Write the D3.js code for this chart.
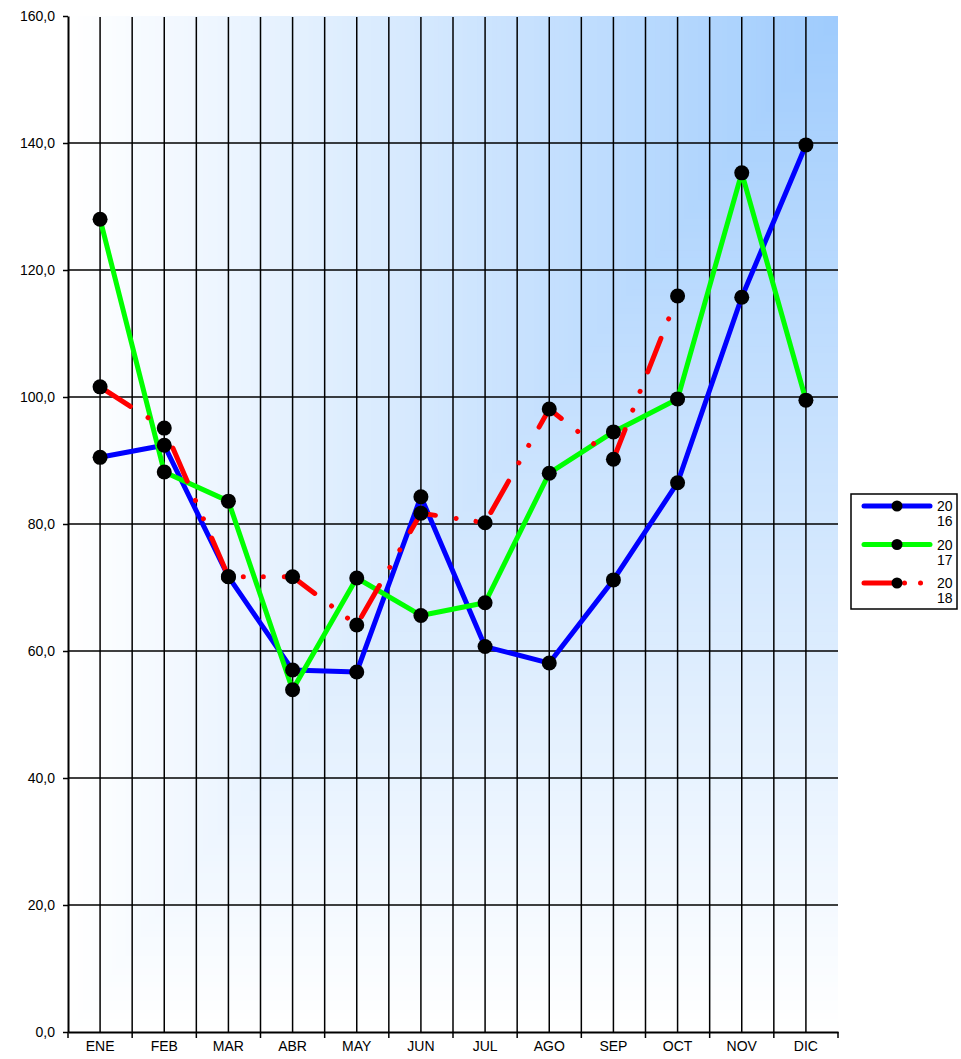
<!DOCTYPE html>
<html>
<head>
<meta charset="utf-8">
<script src="https://cdn.jsdelivr.net/npm/d3@7"></script>
<style>
    body { margin: 0; background: white; }
    svg text { font-family: Arial, "Liberation Sans", sans-serif; fill: black; }
</style>
</head>
<body>
<svg id="chart" width="961" height="1059"></svg>
<script>
const months = ['ENE', 'FEB', 'MAR', 'ABR', 'MAY', 'JUN', 'JUL', 'AGO', 'SEP', 'OCT', 'NOV', 'DIC']
const yTickValues = [0, 20, 40, 60, 80, 100, 120, 140, 160]
const seriesNames = ['2016', '2017', '2018']
const values2016 = [90.5, 92.4, 71.7, 57.0, 56.7, 84.3, 60.7, 58.1, 71.2, 86.5, 115.7, 139.7]
const values2017 = [128.0, 88.2, 83.6, 53.9, 71.5, 65.6, 67.6, 88.0, 94.5, 99.7, 135.3, 99.5]
const values2018 = [101.6, 95.1, 71.7, 71.7, 64.1, 81.7, 80.2, 98.1, 90.2, 115.9, null, null]

const seriesColors = ['#0000ff', '#00ff00', '#ff0000']
const seriesDash = [null, null, '36,21,0.01,20,0.01,21']
const legendDash = [null, null, '29,11.5,0.01,16,0.01,40']

const plotLeft = 68, plotRight = 838, plotTop = 16, plotBottom = 1032
const plotW = plotRight - plotLeft, plotH = plotBottom - plotTop

const svg = d3.select('#chart')

const x = d3.scaleBand().domain(months).range([plotLeft, plotRight])
const y = d3.scaleLinear().domain([0, 160]).range([plotBottom, plotTop])
const cx = m => x(m) + x.bandwidth() / 2

// background gradient spreading from the top right corner
const bgColor = d3.interpolateRgb('#9ecbfd', '#ffffff')
const bgSteps = d3.range(160, 0, -1).map(i => i / 160)
svg.append('g')
    .selectAll('rect')
    .data(bgSteps)
    .enter()
    .append('rect')
    .attr('x', s => plotRight - s * plotW)
    .attr('y', plotTop)
    .attr('width', s => s * plotW)
    .attr('height', s => s * plotH)
    .attr('fill', s => bgColor(Math.pow(s, 0.95)))

// grid
const grid = svg.append('g').attr('stroke', 'black').attr('stroke-width', 1.5)
const vLines = months.map(m => cx(m)).concat(months.slice(1).map(m => x(m)))
grid.selectAll('.v-line')
    .data(vLines)
    .enter()
    .append('line')
    .attr('class', 'v-line')
    .attr('x1', d => d).attr('x2', d => d)
    .attr('y1', plotTop + 1).attr('y2', plotBottom)
grid.selectAll('.h-line')
    .data(yTickValues.filter(v => v > 0 && v < 160))
    .enter()
    .append('line')
    .attr('class', 'h-line')
    .attr('x1', plotLeft).attr('x2', plotRight)
    .attr('y1', d => y(d)).attr('y2', d => y(d))

// axes
const yAxis = svg.append('g')
    .attr('transform', 'translate(' + plotLeft + ',0)')
    .call(d3.axisLeft(y)
        .tickValues(yTickValues)
        .tickSizeInner(5)
        .tickSizeOuter(0)
        .tickPadding(8)
        .tickFormat(d => d.toFixed(1).replace('.', ',')))
yAxis.select('.domain').attr('stroke-width', 2)
yAxis.selectAll('.tick line').attr('stroke-width', 1.5)
yAxis.selectAll('text').style('font-size', '14px').attr('dy', '0.35em')

const xAxis = svg.append('g')
    .attr('transform', 'translate(0,' + plotBottom + ')')
    .call(d3.axisBottom(x).tickSize(0).tickPadding(9))
xAxis.select('.domain').attr('stroke-width', 2)
xAxis.selectAll('text').style('font-size', '14px')
xAxis.selectAll('.bound-tick')
    .data(d3.range(0, months.length + 1))
    .enter()
    .append('line')
    .attr('class', 'bound-tick')
    .attr('stroke', 'black')
    .attr('stroke-width', 1.5)
    .attr('x1', i => plotLeft + i * x.step())
    .attr('x2', i => plotLeft + i * x.step())
    .attr('y1', 0).attr('y2', 6)

// series
const allSeries = [values2016, values2017, values2018]
const line = d3.line()
    .defined(d => d != null)
    .x((d, i) => cx(months[i]))
    .y(d => y(d))

allSeries.forEach(function(values, k){
    svg.append('path')
        .datum(values)
        .attr('fill', 'none')
        .attr('stroke', seriesColors[k])
        .attr('stroke-width', 5)
        .attr('stroke-linejoin', 'round')
        .attr('stroke-linecap', 'round')
        .attr('stroke-dasharray', seriesDash[k])
        .attr('d', line)
})
allSeries.forEach(function(values){
    svg.append('g')
        .selectAll('circle')
        .data(values.map((v, i) => ({v: v, m: months[i]})).filter(d => d.v != null))
        .enter()
        .append('circle')
        .attr('cx', d => cx(d.m))
        .attr('cy', d => y(d.v))
        .attr('r', 7.5)
        .attr('fill', 'black')
})

// legend
const legend = svg.append('g')
legend.append('rect')
    .attr('x', 851).attr('y', 494)
    .attr('width', 106).attr('height', 115)
    .attr('fill', 'white')
    .attr('stroke', 'black')
    .attr('stroke-width', 1.5)

const legendItems = legend.selectAll('.legend-item')
    .data(seriesNames)
    .enter()
    .append('g')
    .attr('class', 'legend-item')
    .attr('transform', (d, i) => 'translate(0,' + (506 + i * 38.5) + ')')

legendItems.append('line')
    .attr('x1', 864).attr('x2', 930)
    .attr('y1', 0).attr('y2', 0)
    .attr('stroke', (d, i) => seriesColors[i])
    .attr('stroke-width', 5)
    .attr('stroke-linecap', 'round')
    .attr('stroke-dasharray', (d, i) => legendDash[i])
legendItems.append('circle')
    .attr('cx', 897).attr('cy', 0)
    .attr('r', 5.5)
    .attr('fill', 'black')
const legendText = legendItems.append('text')
    .style('font-size', '14px')
legendText.append('tspan')
    .attr('x', 937).attr('y', 5)
    .text(d => d.slice(0, 2))
legendText.append('tspan')
    .attr('x', 937).attr('y', 20)
    .text(d => d.slice(2))
</script>
</body>
</html>
